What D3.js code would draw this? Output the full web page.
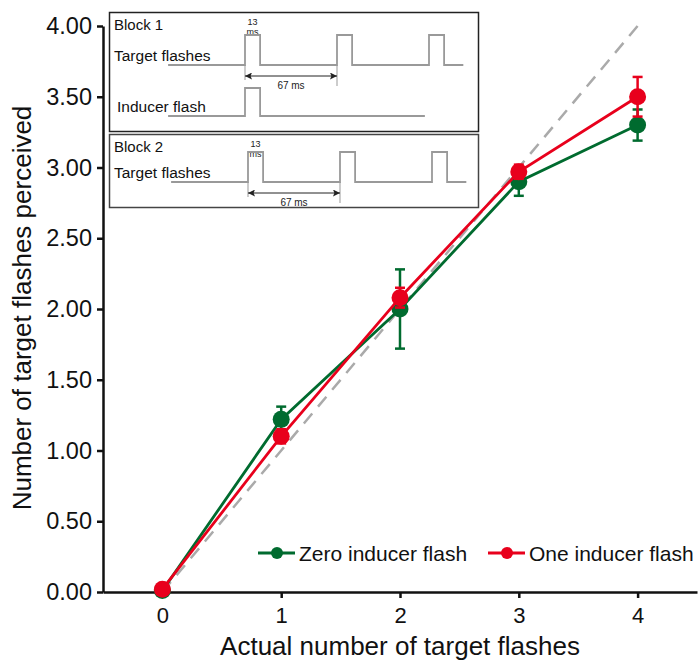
<!DOCTYPE html>
<html>
<head>
<meta charset="utf-8">
<script src="https://d3js.org/d3.v7.min.js"></script>
<style>
body { margin: 0; background: #fff; }
svg { font-family: "Liberation Sans", Arial, Helvetica, sans-serif; }
</style>
</head>
<body>
<svg width="700" height="660"></svg>
<script>
// data
var actual = [0, 1, 2, 3, 4];
var zeroInducer = [0.01, 1.22, 2.00, 2.90, 3.30];
var zeroErr = [0.02, 0.09, 0.28, 0.10, 0.11];
var oneInducer = [0.02, 1.10, 2.08, 2.97, 3.50];
var oneErr = [0.02, 0.05, 0.07, 0.05, 0.14];
var yTicks = [0, 0.5, 1, 1.5, 2, 2.5, 3, 3.5, 4];
var seriesNames = ["Zero inducer flash", "One inducer flash"];
var seriesColors = ["#006b2f", "#e8001c"];

// inset timing, in ms
var targetOnsets = [0, 67, 134];
var inducerOnsets = [0];
var pulseMs = 11;
var waveStart = -56, targetEnd = 159, inducerEnd = 131;

var svg = d3.select("svg");

var x = d3.scaleLinear().domain([-0.5, 4.5]).range([103, 697]);
var y = d3.scaleLinear().domain([0, 4]).range([592, 26]);

// axes
var yAxis = svg.append("g")
    .attr("transform", "translate(103,0)")
    .call(d3.axisLeft(y).tickValues(yTicks).tickFormat(d3.format(".2f"))
      .tickSize(6).tickSizeOuter(0).tickPadding(5));
yAxis.selectAll("text").attr("font-size", 23.5).attr("font-family", null).attr("fill", "#111");

var xAxis = svg.append("g")
    .attr("transform", "translate(0,592)")
    .call(d3.axisBottom(x).tickValues(actual).tickFormat(d3.format("d"))
      .tickSize(6).tickSizeOuter(0).tickPadding(9));
xAxis.selectAll("text").attr("font-size", 22).attr("font-family", null).attr("fill", "#111");

svg.selectAll(".domain, .tick line").attr("stroke", "#111").attr("stroke-width", 2.5);

svg.append("text")
    .attr("x", 400).attr("y", 655)
    .attr("text-anchor", "middle")
    .attr("font-size", 26).attr("fill", "#111")
    .text("Actual number of target flashes");

svg.append("text")
    .attr("transform", "translate(31,308) rotate(-90)")
    .attr("text-anchor", "middle")
    .attr("font-size", 26).attr("fill", "#111")
    .text("Number of target flashes perceived");

// identity line
svg.append("line")
    .attr("x1", x(0)).attr("y1", y(0))
    .attr("x2", x(4)).attr("y2", y(4))
    .attr("stroke", "#aaa").attr("stroke-width", 2.5)
    .attr("stroke-dasharray", "13,9");

// series
var series = [
  {name: seriesNames[0], color: seriesColors[0], vals: zeroInducer, err: zeroErr},
  {name: seriesNames[1], color: seriesColors[1], vals: oneInducer, err: oneErr}
];

var line = d3.line()
    .x(function(d, i) { return x(actual[i]); })
    .y(function(d) { return y(d); });

series.forEach(function(s) {
  var g = svg.append("g");
  g.append("path")
      .attr("d", line(s.vals))
      .attr("fill", "none")
      .attr("stroke", s.color)
      .attr("stroke-width", 2.8);

  var eb = g.selectAll(".eb").data(s.vals).enter().append("g");
  eb.append("line")
      .attr("x1", function(d, i) { return x(actual[i]); })
      .attr("x2", function(d, i) { return x(actual[i]); })
      .attr("y1", function(d, i) { return y(d - s.err[i]); })
      .attr("y2", function(d, i) { return y(d + s.err[i]); })
      .attr("stroke", s.color).attr("stroke-width", 2.5);
  [-1, 1].forEach(function(sign) {
    eb.append("line")
        .attr("x1", function(d, i) { return x(actual[i]) - 5; })
        .attr("x2", function(d, i) { return x(actual[i]) + 5; })
        .attr("y1", function(d, i) { return y(d + sign * s.err[i]); })
        .attr("y2", function(d, i) { return y(d + sign * s.err[i]); })
        .attr("stroke", s.color).attr("stroke-width", 2.5);
  });

  g.selectAll("circle").data(s.vals).enter().append("circle")
      .attr("cx", function(d, i) { return x(actual[i]); })
      .attr("cy", function(d) { return y(d); })
      .attr("r", 8.5)
      .attr("fill", s.color);
});

// legend
var legendX = [258, 488];
series.forEach(function(s, i) {
  var lg = svg.append("g").attr("transform", "translate(" + legendX[i] + ",553)");
  lg.append("line").attr("x1", 0).attr("x2", 37).attr("y1", 0).attr("y2", 0)
      .attr("stroke", s.color).attr("stroke-width", 2.8);
  lg.append("circle").attr("cx", 19).attr("cy", 0).attr("r", 6).attr("fill", s.color);
  lg.append("text").attr("x", 41).attr("y", 8)
      .attr("font-size", 21).attr("fill", "#111")
      .text(s.name);
});

// inset diagram
var inset = svg.append("g");
inset.append("rect").attr("x", 109.5).attr("y", 12.5).attr("width", 369).attr("height", 119)
    .attr("fill", "#fff").attr("stroke", "#222").attr("stroke-width", 1.5);
inset.append("rect").attr("x", 109.5).attr("y", 134.5).attr("width", 369).attr("height", 73)
    .attr("fill", "#fff").attr("stroke", "#444").attr("stroke-width", 1.5);

var defs = svg.append("defs");
defs.append("marker").attr("id", "arrow")
    .attr("viewBox", "0 0 10 10").attr("refX", 10).attr("refY", 5)
    .attr("markerWidth", 9).attr("markerHeight", 7)
    .attr("markerUnits", "userSpaceOnUse")
    .attr("orient", "auto-start-reverse")
  .append("path").attr("d", "M0,0L10,5L0,10L2,5Z").attr("fill", "#222");

function wave(t, onsets, end, base, h) {
  var pts = [[t(waveStart), base]];
  onsets.forEach(function(o) {
    pts.push([t(o), base], [t(o), base - h], [t(o + pulseMs), base - h], [t(o + pulseMs), base]);
  });
  pts.push([t(end), base]);
  return d3.line()(pts);
}

function block(t, top, name, rows) {
  inset.append("text").attr("x", 114).attr("y", top + 18)
      .attr("font-size", 15).attr("fill", "#111").text(name);
  inset.append("text").attr("x", t(pulseMs / 2)).attr("y", top + 13)
      .attr("text-anchor", "middle").attr("font-size", 9).attr("fill", "#222").text("13");
  inset.append("text").attr("x", t(pulseMs / 2)).attr("y", top + 23)
      .attr("text-anchor", "middle").attr("font-size", 9).attr("fill", "#222").text("ms");
  rows.forEach(function(r) {
    inset.append("text").attr("x", r.lx).attr("y", r.base - 4)
        .attr("font-size", 15.5).attr("fill", "#111").text(r.label);
    inset.append("path").attr("d", wave(t, r.onsets, r.end, r.base, r.h))
        .attr("fill", "none").attr("stroke", "#999").attr("stroke-width", 1.8);
  });
  var b = rows[0].base, ay = b + 11;
  inset.append("line").attr("x1", t(0)).attr("x2", t(0)).attr("y1", b).attr("y2", ay + 4)
      .attr("stroke", "#999").attr("stroke-width", 1);
  inset.append("line").attr("x1", t(67)).attr("x2", t(67)).attr("y1", b).attr("y2", ay + 10)
      .attr("stroke", "#999").attr("stroke-width", 1);
  inset.append("line").attr("x1", t(0)).attr("x2", t(67)).attr("y1", ay).attr("y2", ay)
      .attr("stroke", "#222").attr("stroke-width", 1)
      .attr("marker-start", "url(#arrow)").attr("marker-end", "url(#arrow)");
  inset.append("text").attr("x", (t(0) + t(67)) / 2).attr("y", ay + 13)
      .attr("text-anchor", "middle").attr("font-size", 10).attr("fill", "#222").text("67 ms");
}

var t1 = d3.scaleLinear().domain([0, 67]).range([245, 337]);
var t2 = d3.scaleLinear().domain([0, 67]).range([248, 340]);

block(t1, 12, "Block 1", [
  {label: "Target flashes", lx: 114, onsets: targetOnsets, end: targetEnd, base: 65, h: 30},
  {label: "Inducer flash", lx: 117, onsets: inducerOnsets, end: inducerEnd, base: 116, h: 28}
]);
block(t2, 134, "Block 2", [
  {label: "Target flashes", lx: 114, onsets: targetOnsets, end: targetEnd, base: 182, h: 30}
]);
</script>
</body>
</html>
